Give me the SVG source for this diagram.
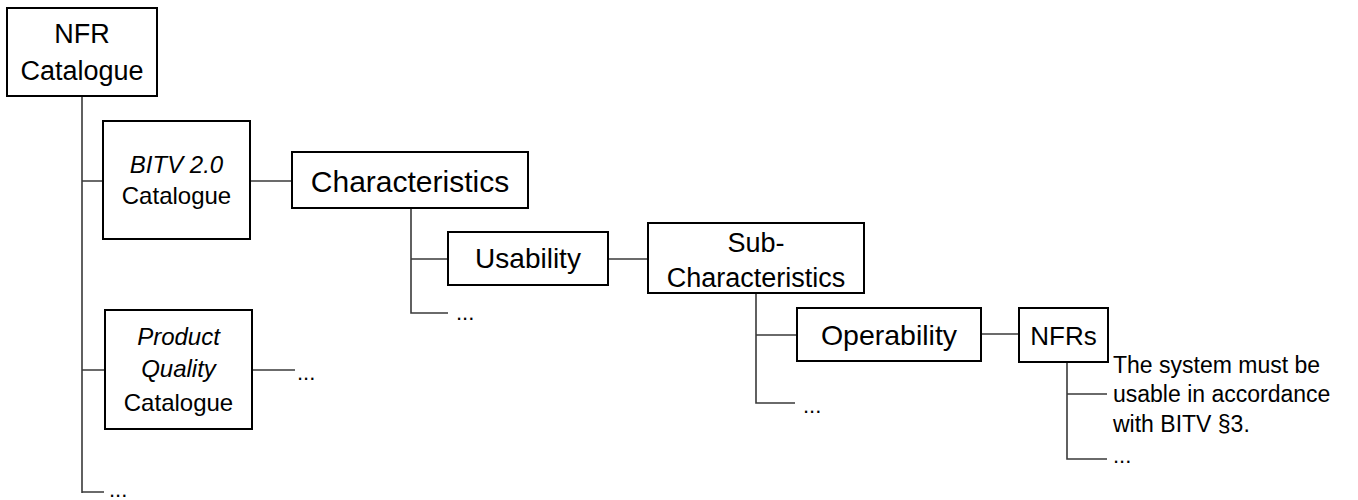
<svg xmlns="http://www.w3.org/2000/svg" width="1358" height="500" viewBox="0 0 1358 500">
<style>
.box{fill:#fff;stroke:#000;stroke-width:2}
.ln{stroke:#3a3a3a;stroke-width:1.6;fill:none}
text{font-family:"Liberation Sans",Arial,sans-serif;fill:#000}
.c{text-anchor:middle}
.i{font-style:italic}
</style>
<rect width="1358" height="500" fill="#fff"/>
<g id="connectors">
<path class="ln" d="M82,96 V493 M82,181 H103 M82,370 H105 M82,492 H104"/>
<path class="ln" d="M250,181 H292"/>
<path class="ln" d="M252,370 H295"/>
<path class="ln" d="M411,208 V313 H448 M411,259 H448"/>
<path class="ln" d="M608,259 H648"/>
<path class="ln" d="M756,293 V403 H795 M756,335 H797"/>
<path class="ln" d="M981,334 H1019"/>
<path class="ln" d="M1067,362 V459 H1107 M1067,394 H1107"/>
</g>
<g id="nfr-catalogue">
<rect class="box" x="7" y="8" width="150" height="88"/>
<text class="c" x="82" y="43" font-size="27">NFR</text>
<text class="c" x="82" y="80" font-size="27">Catalogue</text>
</g>
<g id="bitv-catalogue">
<rect class="box" x="103" y="121" width="147" height="118"/>
<text class="c i" x="176.5" y="173" font-size="24">BITV 2.0</text>
<text class="c" x="176.5" y="204" font-size="24">Catalogue</text>
</g>
<g id="product-quality-catalogue">
<rect class="box" x="105" y="310" width="147" height="119"/>
<text class="c i" x="178.5" y="345" font-size="24">Product</text>
<text class="c i" x="178.5" y="377" font-size="24">Quality</text>
<text class="c" x="178.5" y="411" font-size="24">Catalogue</text>
</g>
<g id="pq-more"><text x="297" y="380" font-size="22">...</text></g>
<g id="catalogue-more"><text x="109" y="497" font-size="22">...</text></g>
<g id="characteristics">
<rect class="box" x="292" y="152" width="236" height="56"/>
<text class="c" x="410" y="192" font-size="30">Characteristics</text>
</g>
<g id="usability">
<rect class="box" x="448" y="232" width="160" height="53"/>
<text class="c" x="528" y="268" font-size="28">Usability</text>
</g>
<g id="char-more"><text x="456" y="320" font-size="22">...</text></g>
<g id="sub-characteristics">
<rect class="box" x="648" y="223" width="216" height="70"/>
<text class="c" x="756" y="252" font-size="27">Sub-</text>
<text class="c" x="756" y="287" font-size="27">Characteristics</text>
</g>
<g id="operability">
<rect class="box" x="797" y="308" width="184" height="53"/>
<text class="c" x="889" y="345" font-size="28.5">Operability</text>
</g>
<g id="sub-more"><text x="803" y="413" font-size="22">...</text></g>
<g id="nfrs">
<rect class="box" x="1019" y="308" width="89" height="54"/>
<text class="c" x="1063.5" y="345" font-size="26">NFRs</text>
</g>
<g id="nfr-text">
<text x="1113" y="373" font-size="23">The system must be</text>
<text x="1113" y="402" font-size="23">usable in accordance</text>
<text x="1113" y="432" font-size="23">with BITV §3.</text>
<text x="1113" y="463" font-size="22">...</text>
</g>
</svg>
